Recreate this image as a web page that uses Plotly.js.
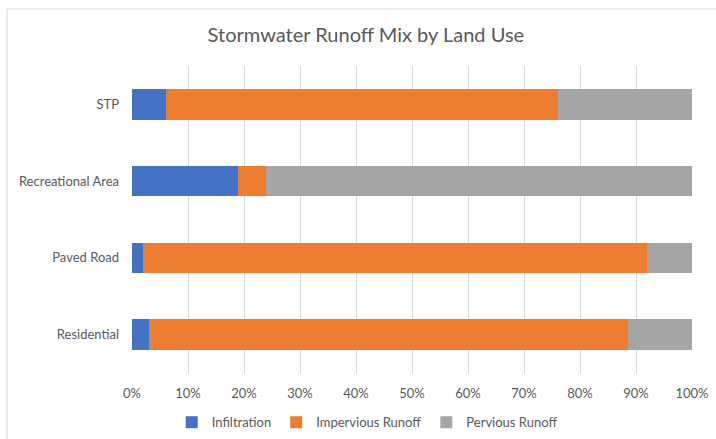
<!DOCTYPE html>
<html>
<head>
<meta charset="utf-8">
<script src="https://cdn.plot.ly/plotly-3.0.1.min.js"></script>
<style>html,body{margin:0;padding:0;background:#fff;}#chart{width:716px;height:439px;}</style>
</head>
<body>
<div id="chart"></div>
<script>
const categories = ["Residential", "Paved Road", "Recreational Area", "STP"];
const infiltration = [3, 2, 19, 6];
const imperviousRunoff = [85.5, 90, 5, 70];
const perviousRunoff = [11.5, 8, 76, 24];
const tickVals = [0, 0.1, 0.2, 0.3, 0.4, 0.5, 0.6, 0.7, 0.8, 0.9, 1.0];
const tickLabels = ["0%", "10%", "20%", "30%", "40%", "50%", "60%", "70%", "80%", "90%", "100%"];

const series = [
  {name: "Infiltration", values: infiltration, color: "#4472C4"},
  {name: "Impervious Runoff", values: imperviousRunoff, color: "#ED7D31"},
  {name: "Pervious Runoff", values: perviousRunoff, color: "#A5A5A5"}
];

const traces = series.map(s => ({
  type: "bar",
  orientation: "h",
  name: s.name,
  y: categories,
  x: s.values,
  marker: {color: s.color, line: {width: 0}},
  hoverinfo: "name+x"
}));

const font = "Lato, 'Open Sans', sans-serif";
const layout = {
  width: 716, height: 439,
  barmode: "stack",
  barnorm: "fraction",
  bargap: 0.6,
  paper_bgcolor: "#fff", plot_bgcolor: "#fff",
  margin: {l: 132, r: 24, t: 66, b: 66},
  title: {text: "Stormwater Runoff Mix by Land Use", font: {family: font, size: 20, color: "#595959"}, x: 0.511, xanchor: "center", y: 0.92, yanchor: "middle"},
  xaxis: {
    range: [0, 1], tickvals: tickVals, ticktext: tickLabels,
    showgrid: true, gridcolor: "#D9D9D9", gridwidth: 1, zeroline: false,
    showline: false, ticks: "", ticklabelstandoff: 11,
    tickfont: {family: font, size: 13, color: "#595959"}, fixedrange: true,
    automargin: false
  },
  yaxis: {
    showgrid: false, zeroline: false, showline: false, ticks: "", ticklabelstandoff: 12,
    tickfont: {family: font, size: 13, color: "#595959"}, fixedrange: true,
    automargin: false
  },
  legend: {
    orientation: "h", x: 0.42, xanchor: "center",
    yref: "container", y: 0.038, yanchor: "middle",
    font: {family: font, size: 13, color: "#595959"}, traceorder: "normal",
    itemwidth: 30
  },
  shapes: [{
    type: "rect", xref: "paper", yref: "paper",
    x0: -0.223, x1: 1.2, y0: -0.5, y1: 1.186,
    line: {color: "#D9D9D9", width: 1}, fillcolor: "rgba(0,0,0,0)", layer: "below"
  }]
};

Plotly.newPlot("chart", traces, layout, {displayModeBar: false, staticPlot: true});
</script>
</body>
</html>
